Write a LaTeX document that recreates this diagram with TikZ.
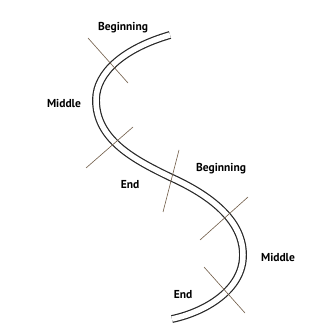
\documentclass[tikz,border=0pt]{standalone}
\usepackage{fontspec}
\setmainfont{PT Sans}
\begin{document}
\begin{tikzpicture}[x=1pt,y=-1pt,
  road/.style={draw=black!85, line width=1.2pt, double=white, double distance=5.5pt},
  tick/.style={draw=black!60!brown!80, line width=0.6pt},
  lbl/.style={font=\bfseries\fontsize{11.5}{12}\selectfont, inner sep=0pt}]
\useasboundingbox[fill=white] (0,0) rectangle (334,336);
\draw[road] (170,35) .. controls (125,48) and (96,72) .. (96,100)
  .. controls (96,140) and (135,160) .. (170,177)
  .. controls (210,195) and (243,220) .. (243,255)
  .. controls (243,290) and (205,312) .. (172,319);
\coordinate (t1a) at (88,38);  \coordinate (t1b) at (128,83);
\coordinate (t2a) at (86,168); \coordinate (t2b) at (133,127);
\coordinate (t3a) at (179,150); \coordinate (t3b) at (163,212);
\coordinate (t4a) at (248,197); \coordinate (t4b) at (200,240);
\coordinate (t5a) at (204,267); \coordinate (t5b) at (245,313);
\draw[tick] (t1a) -- (t1b);
\draw[tick] (t2a) -- (t2b);
\draw[tick] (t3a) -- (t3b);
\draw[tick] (t4a) -- (t4b);
\draw[tick] (t5a) -- (t5b);
\node[lbl] (b1) at (123,28) {Beginning};
\node[lbl] (m1) at (64,103) {Middle};
\node[lbl] (e1) at (130,185) {End};
\node[lbl] (b2) at (221,169) {Beginning};
\node[lbl] (m2) at (278,257) {Middle};
\node[lbl] (e2) at (183,295) {End};
\end{tikzpicture}
\end{document}
